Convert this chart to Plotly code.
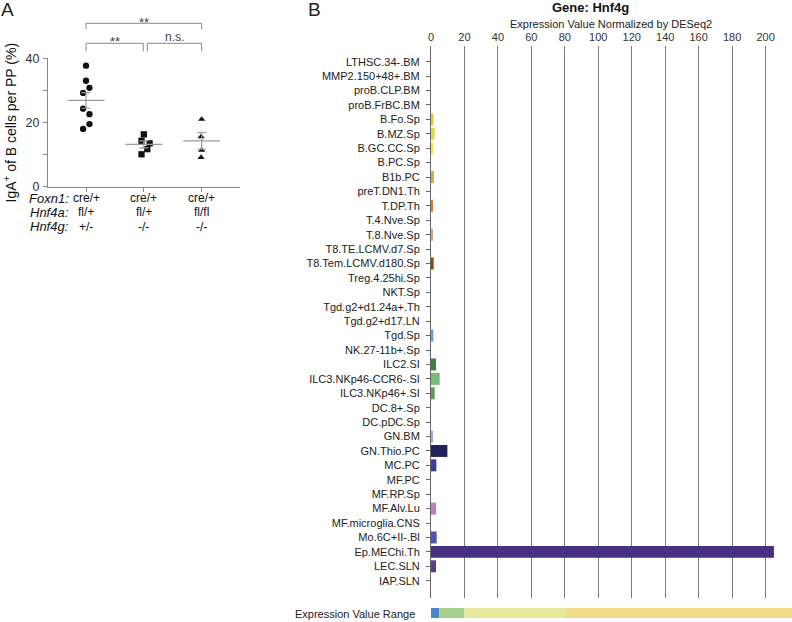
import numpy as np
import plotly.graph_objects as go

FONT = "Liberation Sans, Arial, sans-serif"
W, H = 792, 622

# ---------------- Panel A data ----------------
group_pos = [1, 2, 3]
g1_vals = [37.7, 33.0, 30.8, 29.2, 24.3, 22.6, 19.5, 18.0]
g1_jitter = [0.0, 0.0, 0.06, -0.05, -0.05, 0.06, 0.06, -0.05]
g2_vals = [16.3, 14.3, 13.5, 11.7, 10.1]
g2_jitter = [0.0, -0.04, 0.1, 0.06, -0.04]
g3_vals = [21.0, 15.6, 11.4, 9.1]
g3_jitter = [0.0, -0.01, 0.0, -0.01]
group_symbols = ["circle", "square", "triangle-up"]
row_labels = ["Foxn1:", "Hnf4a:", "Hnf4g:"]
genotypes = [["cre/+", "cre/+", "cre/+"],
             ["fl/+", "fl/+", "fl/fl"],
             ["+/-", "-/-", "-/-"]]
# significance brackets: (x start, x end, label)
brackets = [(1, 3, "**"), (1, 1.99, "**"), (2.06, 3, "n.s.")]

# ---------------- Panel B data ----------------
cell_types = [
    "LTHSC.34-.BM", "MMP2.150+48+.BM", "proB.CLP.BM", "proB.FrBC.BM",
    "B.Fo.Sp", "B.MZ.Sp", "B.GC.CC.Sp", "B.PC.Sp", "B1b.PC", "preT.DN1.Th",
    "T.DP.Th", "T.4.Nve.Sp", "T.8.Nve.Sp", "T8.TE.LCMV.d7.Sp",
    "T8.Tem.LCMV.d180.Sp", "Treg.4.25hi.Sp", "NKT.Sp", "Tgd.g2+d1.24a+.Th",
    "Tgd.g2+d17.LN", "Tgd.Sp", "NK.27-11b+.Sp", "ILC2.SI",
    "ILC3.NKp46-CCR6-.SI", "ILC3.NKp46+.SI", "DC.8+.Sp", "DC.pDC.Sp",
    "GN.BM", "GN.Thio.PC", "MC.PC", "MF.PC", "MF.RP.Sp", "MF.Alv.Lu",
    "MF.microglia.CNS", "Mo.6C+II-.Bl", "Ep.MEChi.Th", "LEC.SLN", "IAP.SLN",
]
expression = [
    0, 0, 0, 0,
    1.4, 2.2, 1.0, 0, 1.8, 0,
    1.2, 0, 1.0, 0,
    1.6, 0, 0, 0,
    0, 1.4, 0, 3.0,
    5.2, 2.2, 0, 0,
    1.0, 9.8, 3.2, 0, 0, 3.0,
    0, 3.4, 205.0, 3.0, 0,
]
bar_colors = [
    "#999999", "#999999", "#999999", "#999999",
    "#f2c12e", "#d9df3c", "#eee232", "#999999", "#cfae48", "#999999",
    "#e07a28", "#999999", "#c9a58a", "#999999",
    "#8a4a1c", "#999999", "#999999", "#999999",
    "#999999", "#6d9be0", "#999999", "#3f7f3f",
    "#78bc78", "#5f9a50", "#999999", "#999999",
    "#a8a8d8", "#22205a", "#3b3c9c", "#999999", "#999999", "#c27cc4",
    "#999999", "#4a55b0", "#483183", "#5a3f8f", "#999999",
]
x_ticks = [0, 20, 40, 60, 80, 100, 120, 140, 160, 180, 200]
range_edges = [0, 5, 20, 80, 216]
range_colors = ["#4a86c8", "#a8d08d", "#e6e89a", "#f2dc8a"]


def py(px):
    """pixel from top -> paper y"""
    return 1 - px / H


def pxx(px):
    return px / W


fig = go.Figure()

# ---- Panel A traces ----
groups = [(g1_vals, g1_jitter), (g2_vals, g2_jitter), (g3_vals, g3_jitter)]
for (vals, jit), g, sym in zip(groups, group_pos, group_symbols):
    vals = np.array(vals)
    fig.add_trace(go.Scatter(
        x=g + np.array(jit), y=vals, mode="markers",
        marker=dict(symbol=sym, color="#111111", size=6.3, line=dict(width=0)),
        xaxis="x", yaxis="y", showlegend=False, cliponaxis=False))
    mean = vals.mean()
    sem = vals.std(ddof=1) / np.sqrt(len(vals))
    fig.add_trace(go.Scatter(
        x=[g - 0.32, g + 0.32], y=[mean, mean], mode="lines",
        line=dict(color="#9a9a9a", width=1.2),
        xaxis="x", yaxis="y", showlegend=False))
    fig.add_trace(go.Scatter(
        x=[g], y=[mean], mode="markers", marker=dict(size=0.1, color="rgba(0,0,0,0)"),
        error_y=dict(type="data", array=[sem], color="#9a9a9a", thickness=1.2, width=4.5),
        xaxis="x", yaxis="y", showlegend=False))

# ---- Panel B bars ----
fig.add_trace(go.Bar(
    y=cell_types, x=expression, orientation="h",
    marker=dict(color=bar_colors, line=dict(width=0)),
    xaxis="x2", yaxis="y2", showlegend=False))

# ---- Expression value range bar ----
fig.add_trace(go.Bar(
    y=["range"] * len(range_colors), x=np.diff(range_edges), base=range_edges[:-1],
    orientation="h", width=1,
    marker=dict(color=range_colors, line=dict(width=0)),
    xaxis="x3", yaxis="y3", showlegend=False))

axis_gray = "#888888"
layout = dict(
    template="none",
    width=W, height=H, autosize=False,
    margin=dict(l=0, r=0, t=0, b=0, pad=0, autoexpand=False),
    paper_bgcolor="white", plot_bgcolor="rgba(0,0,0,0)",
    font=dict(family=FONT, color="#222222", size=11),
    bargap=0.17, showlegend=False,
    xaxis=dict(domain=[pxx(48), pxx(240)], range=[0.343, 3.663],
               anchor="y", showgrid=False, zeroline=False, automargin=False,
               showline=True, linecolor=axis_gray, linewidth=1,
               tickvals=group_pos, showticklabels=False,
               ticks="outside", ticklen=4, tickcolor=axis_gray),
    yaxis=dict(domain=[py(186.7), py(58.3)], range=[0, 40],
               anchor="x", showgrid=False, zeroline=False, automargin=False,
               showline=True, linecolor=axis_gray, linewidth=1,
               tickvals=[0, 20, 40],
               ticks="outside", ticklen=4, tickcolor=axis_gray,
               minor=dict(tickvals=[10, 30], ticks="outside", ticklen=4,
                          tickcolor=axis_gray, showgrid=False),
               tickfont=dict(size=12.5, color="#333333"), ticklabelstandoff=1),
    xaxis2=dict(domain=[pxx(431), 1.0], range=[0, 215.8], anchor="y2",
                side="top", tickvals=x_ticks, showgrid=True, automargin=False,
                gridcolor="#7a7a7a", gridwidth=1, zeroline=False,
                showline=False, ticks="", tickfont=dict(size=11, color="#333333"),
                ticklabelstandoff=2),
    yaxis2=dict(domain=[py(598), py(45.7)], anchor="x2", automargin=False,
                type="category", categoryorder="array", categoryarray=cell_types,
                range=[37.2, -1.11], showgrid=False, zeroline=False,
                showline=True, linecolor="#666666", linewidth=1,
                ticks="outside", ticklen=4, tickcolor="#666666",
                tickfont=dict(size=11, color="#222222"), ticklabelstandoff=4),
    xaxis3=dict(domain=[pxx(431), 1.0], range=[0, 215.8], anchor="y3",
                visible=False, automargin=False),
    yaxis3=dict(domain=[py(618), py(608)], range=[-0.5, 0.5], anchor="x3",
                type="category", visible=False, automargin=False),
)
fig.update_layout(**layout)

# ---- brackets ----
bracket_y = [23.3, 43.3, 43.3]
bracket_drop = [6, 8, 8]
label_y = [22.5, 41.0, 37.0]
for (x0, x1, lab), by, dr, ly in zip(brackets, bracket_y, bracket_drop, label_y):
    for seg in [(x0, by + dr, x0, by), (x0, by, x1, by), (x1, by, x1, by + dr)]:
        fig.add_shape(type="line", xref="x", yref="paper",
                      x0=seg[0], y0=py(seg[1]), x1=seg[2], y1=py(seg[3]),
                      line=dict(color=axis_gray, width=1))
    fig.add_annotation(x=(x0 + x1) / 2, y=py(ly), xref="x", yref="paper",
                       text=lab, showarrow=False, xanchor="center", yanchor="middle",
                       font=dict(size=13 if lab == "**" else 12, color="#444444"))

# ---- genotype table ----
row_y = [198.5, 212.5, 226.5]
for lab, genos, ry in zip(row_labels, genotypes, row_y):
    fig.add_annotation(x=pxx(70), y=py(ry), xref="paper", yref="paper",
                       text="<i>" + lab + "</i>", showarrow=False,
                       xanchor="right", yanchor="middle", borderpad=0,
                       font=dict(size=13, color="#111111"))
    for g, t in zip(group_pos, genos):
        fig.add_annotation(x=g, y=py(ry), xref="x", yref="paper", text=t,
                           showarrow=False, xanchor="center", yanchor="middle",
                           borderpad=0, font=dict(size=12, color="#111111"))

# ---- y title panel A ----
fig.add_annotation(x=pxx(11), y=py(122.5), xref="paper", yref="paper",
                   text="IgA<sup>+</sup> of B cells per PP (%)", textangle=-90,
                   showarrow=False, xanchor="center", yanchor="middle",
                   font=dict(size=14, color="#111111"))

# ---- panel letters ----
fig.add_annotation(x=pxx(7), y=py(10), xref="paper", yref="paper", text="A",
                   showarrow=False, xanchor="center", yanchor="middle", borderpad=0,
                   font=dict(size=19, color="#222222"))
fig.add_annotation(x=pxx(314.5), y=py(10), xref="paper", yref="paper", text="B",
                   showarrow=False, xanchor="center", yanchor="middle", borderpad=0,
                   font=dict(size=19, color="#222222"))

# ---- panel B titles ----
fig.add_annotation(x=pxx(590), y=py(8), xref="paper", yref="paper",
                   text="<b>Gene: Hnf4g</b>", showarrow=False,
                   xanchor="center", yanchor="middle",
                   font=dict(size=13, color="#111111"))
fig.add_annotation(x=pxx(611), y=py(24), xref="paper", yref="paper",
                   text="Expression Value Normalized by DESeq2", showarrow=False,
                   xanchor="center", yanchor="middle",
                   font=dict(size=11, color="#222222"))
fig.add_annotation(x=pxx(417), y=py(613.5), xref="paper", yref="paper",
                   text="Expression Value Range", showarrow=False,
                   xanchor="right", yanchor="middle",
                   font=dict(size=11, color="#222222"))

fig.write_html(
    "out.html",
    config={"displayModeBar": False},
    post_script="document.body.style.margin='0';document.body.style.overflow='hidden';",
)
